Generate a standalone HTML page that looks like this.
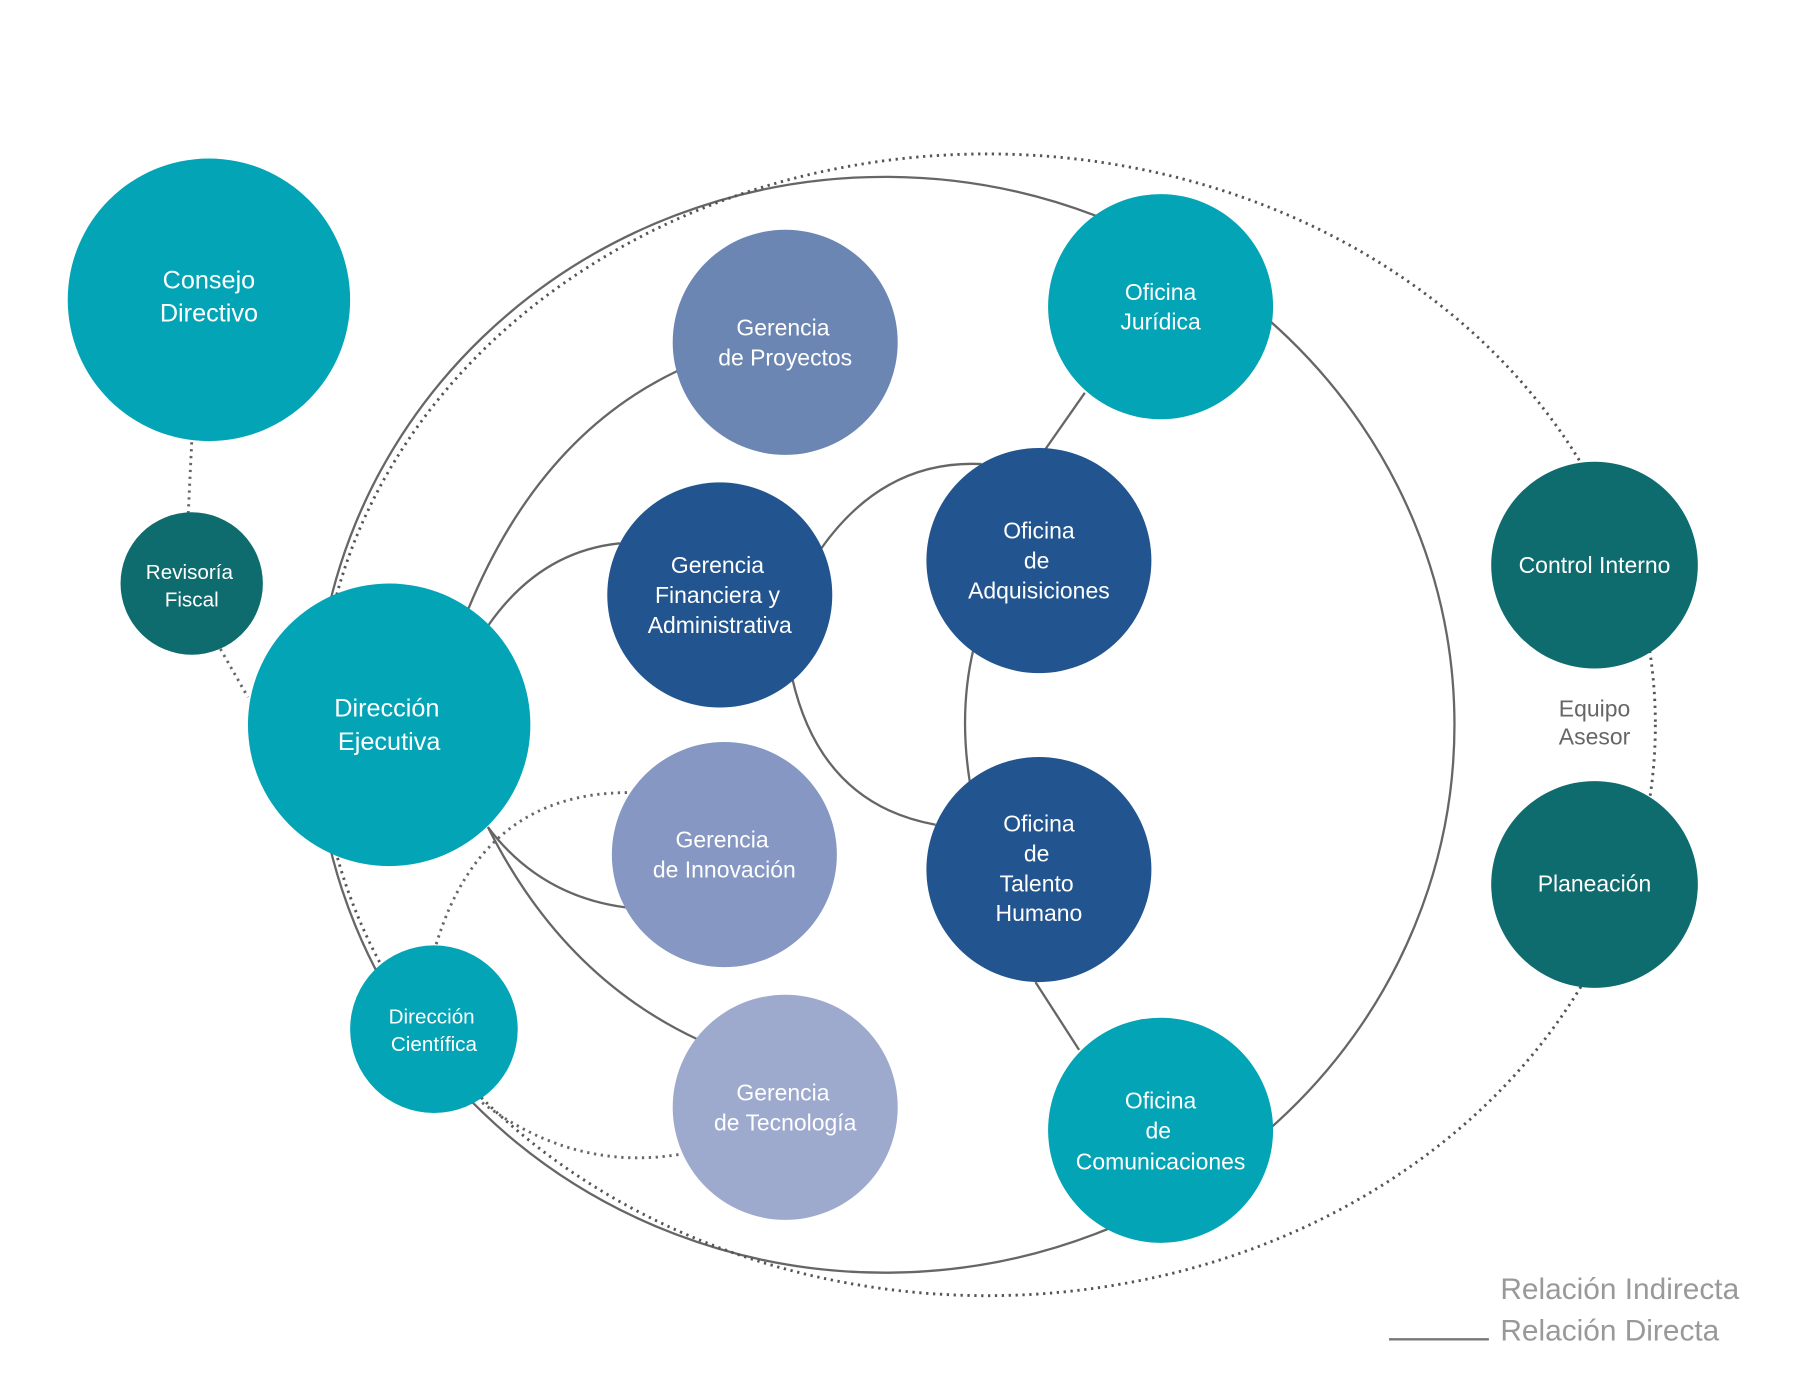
<!DOCTYPE html>
<html><head><meta charset="utf-8"><style>
html,body{margin:0;padding:0;background:#fff}
svg{display:block}
.t{font-family:"Liberation Sans",sans-serif;fill:#fff;text-anchor:middle}
</style></head><body>
<svg width="1800" height="1391" viewBox="0 0 1568 1211" preserveAspectRatio="none" xmlns="http://www.w3.org/2000/svg">
<g fill="none" stroke="#666" stroke-width="2">
<ellipse cx="771" cy="631" rx="496" ry="477"/>
<ellipse cx="860" cy="631" rx="582" ry="497" stroke-dasharray="2 4" stroke="#555" stroke-width="2.5"/>
<path d="M408,530 Q470,380 590,323"/>
<path d="M425,545 Q470,480 540,473"/>
<path d="M425,720 Q470,780 545,790"/>
<path d="M425,720 Q490,850 608,905"/>
<path d="M380,822 Q420,690 548,690" stroke-dasharray="2 4" stroke-width="2.5"/>
<path d="M420,960 Q500,1020 592,1005" stroke-dasharray="2 4" stroke-width="2.5"/>
<path d="M715,478 Q770,400 855,404"/>
<path d="M690,590 Q715,700 815,718"/>
<path d="M848,565 Q835,620 845,682"/>
<path d="M945,342 L910,392"/>
<path d="M902,855 L940,914"/>
<path d="M167,385 L164,447" stroke-dasharray="2 4" stroke-width="2.5"/>
<path d="M192,565 L216,607" stroke-dasharray="2 4" stroke-width="2.5"/>
</g>
<line x1="1210" y1="1166" x2="1297" y2="1166" stroke="#777" stroke-width="2"/>
<g font-family="Liberation Sans,sans-serif" font-size="26" fill="#999" font-weight="300">
<text x="1307" y="1131">Relación Indirecta</text>
<text x="1307" y="1167">Relación Directa</text>
</g>
<g font-family="Liberation Sans,sans-serif" font-size="20" fill="#666" text-anchor="middle">
<text x="1389" y="624">Equipo</text><text x="1389" y="648">Asesor</text>
</g>
<circle cx="182" cy="261" r="123" fill="#02a4b6"/>
<circle cx="167" cy="508" r="62" fill="#0e6b6e"/>
<circle cx="339" cy="631" r="123" fill="#02a4b6"/>
<circle cx="378" cy="896" r="73" fill="#02a4b6"/>
<circle cx="684" cy="298" r="98" fill="#6b86b3"/>
<circle cx="627" cy="518" r="98" fill="#22558f"/>
<circle cx="631" cy="744" r="98" fill="#8597c2"/>
<circle cx="684" cy="964" r="98" fill="#9eaacd"/>
<circle cx="1011" cy="267" r="98" fill="#02a4b6"/>
<circle cx="905" cy="488" r="98" fill="#22558f"/>
<circle cx="905" cy="757" r="98" fill="#22558f"/>
<circle cx="1011" cy="984" r="98" fill="#02a4b6"/>
<circle cx="1389" cy="492" r="90" fill="#0e6b6e"/>
<circle cx="1389" cy="770" r="90" fill="#0e6b6e"/>
<g class="t" font-size="22">
<text x="182" y="251">Consejo</text><text x="182" y="280">Directivo</text>
<text x="337" y="624">Dirección</text><text x="339" y="653">Ejecutiva</text>
</g>
<g class="t" font-size="18">
<text x="165" y="504">Revisoría</text><text x="167" y="528">Fiscal</text>
<text x="376" y="891">Dirección</text><text x="378" y="915">Científica</text>
</g>
<g class="t" font-size="20">
<text x="682" y="292">Gerencia</text><text x="684" y="318">de Proyectos</text>
<text x="625" y="499">Gerencia</text><text x="625" y="525">Financiera y</text><text x="627" y="551">Administrativa</text>
<text x="629" y="738">Gerencia</text><text x="631" y="764">de Innovación</text>
<text x="682" y="958">Gerencia</text><text x="684" y="984">de Tecnología</text>
<text x="1011" y="261">Oficina</text><text x="1011" y="287">Jurídica</text>
<text x="905" y="469">Oficina</text><text x="903" y="495">de</text><text x="905" y="521">Adquisiciones</text>
<text x="905" y="724">Oficina</text><text x="903" y="750">de</text><text x="903" y="776">Talento</text><text x="905" y="802">Humano</text>
<text x="1011" y="965">Oficina</text><text x="1009" y="991">de</text><text x="1011" y="1018">Comunicaciones</text>
<text x="1389" y="499">Control Interno</text>
<text x="1389" y="776">Planeación</text>
</g>
</svg>
</body></html>
